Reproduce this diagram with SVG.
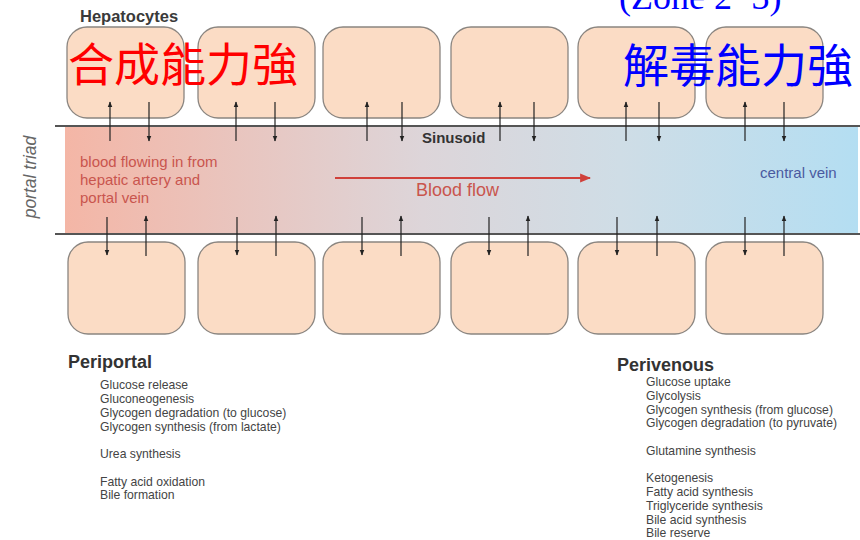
<svg xmlns="http://www.w3.org/2000/svg" width="860" height="540" viewBox="0 0 860 540">
<defs>
<linearGradient id="bandGrad" x1="65" y1="0" x2="858" y2="0" gradientUnits="userSpaceOnUse">
<stop offset="0" stop-color="#f4b6a6"/>
<stop offset="0.45" stop-color="#ddd5d9"/>
<stop offset="0.7" stop-color="#cfdde6"/>
<stop offset="1" stop-color="#b4def2"/>
</linearGradient>
<marker id="ah" viewBox="0 0 10 10" refX="9" refY="5" markerWidth="6" markerHeight="6" orient="auto" markerUnits="userSpaceOnUse">
<path d="M0,1 L10,5 L0,9 z" fill="#222"/>
</marker>
<marker id="rh" viewBox="0 0 10 10" refX="9" refY="5" markerWidth="11" markerHeight="11" orient="auto" markerUnits="userSpaceOnUse">
<path d="M0,1 L10,5 L0,9 z" fill="#d0403a"/>
</marker>
</defs>
<style>
.cell{fill:#fbdcc5;stroke:#8a8580;stroke-width:1.3}
.ar{stroke:#222;stroke-width:1.2;fill:none;marker-end:url(#ah)}
.sans{font-family:"Liberation Sans",Arial,sans-serif}
.item{font-family:"Liberation Sans",Arial,sans-serif;font-size:12.2px;fill:#444}
.head{font-family:"Liberation Sans",Arial,sans-serif;font-size:18px;font-weight:bold;fill:#333}
.cjk{font-family:"Noto Sans CJK TC","Noto Sans CJK SC",sans-serif;font-size:46px}
</style>
<rect width="860" height="540" fill="#ffffff"/>

<g id="sinusoid">
<rect x="65" y="126" width="793" height="108" fill="url(#bandGrad)"/>
<line x1="55" y1="126" x2="860" y2="126" stroke="#555" stroke-width="2"/>
<line x1="55" y1="234" x2="860" y2="234" stroke="#555" stroke-width="2"/>
<text x="422" y="143" class="sans" font-size="15" font-weight="bold" fill="#333">Sinusoid</text>
<text class="sans" font-size="15" fill="#c9554e"><tspan x="80" y="167">blood flowing in from</tspan><tspan x="80" y="185">hepatic artery and</tspan><tspan x="80" y="203">portal vein</tspan></text>
<text x="760" y="178" class="sans" font-size="15" fill="#4a5aa0">central vein</text>
</g>

<g id="top-cells">
<rect id="t1" class="cell" x="67" y="27" width="117" height="91" rx="20"/>
<rect id="t2" class="cell" x="198" y="27" width="117" height="91" rx="20"/>
<rect id="t3" class="cell" x="323" y="27" width="117" height="91" rx="20"/>
<rect id="t4" class="cell" x="451" y="27" width="117" height="91" rx="20"/>
<rect id="t5" class="cell" x="578" y="27" width="117" height="91" rx="20"/>
<rect id="t6" class="cell" x="706" y="27" width="117" height="91" rx="20"/>
</g>
<g id="bottom-cells">
<rect id="b1" class="cell" x="68" y="242" width="117" height="92" rx="20"/>
<rect id="b2" class="cell" x="198" y="242" width="117" height="92" rx="20"/>
<rect id="b3" class="cell" x="323" y="242" width="117" height="92" rx="20"/>
<rect id="b4" class="cell" x="451" y="242" width="117" height="92" rx="20"/>
<rect id="b5" class="cell" x="578" y="242" width="117" height="92" rx="20"/>
<rect id="b6" class="cell" x="706" y="242" width="117" height="92" rx="20"/>
</g>

<g id="connectors">
<line class="ar" x1="110" y1="141" x2="110" y2="102"/>
<line class="ar" x1="149" y1="102" x2="149" y2="141"/>
<line class="ar" x1="236" y1="141" x2="236" y2="102"/>
<line class="ar" x1="275" y1="102" x2="275" y2="141"/>
<line class="ar" x1="367" y1="141" x2="367" y2="102"/>
<line class="ar" x1="402" y1="102" x2="402" y2="141"/>
<line class="ar" x1="500" y1="141" x2="500" y2="102"/>
<line class="ar" x1="534" y1="102" x2="534" y2="141"/>
<line class="ar" x1="626" y1="141" x2="626" y2="102"/>
<line class="ar" x1="659" y1="102" x2="659" y2="141"/>
<line class="ar" x1="745" y1="141" x2="745" y2="102"/>
<line class="ar" x1="784" y1="102" x2="784" y2="141"/>

<line class="ar" x1="107" y1="217" x2="107" y2="255"/>
<line class="ar" x1="146" y1="256" x2="146" y2="216"/>
<line class="ar" x1="237" y1="217" x2="237" y2="255"/>
<line class="ar" x1="276" y1="256" x2="276" y2="216"/>
<line class="ar" x1="362" y1="217" x2="362" y2="255"/>
<line class="ar" x1="401" y1="256" x2="401" y2="216"/>
<line class="ar" x1="489" y1="217" x2="489" y2="255"/>
<line class="ar" x1="528" y1="256" x2="528" y2="216"/>
<line class="ar" x1="617" y1="217" x2="617" y2="255"/>
<line class="ar" x1="657" y1="256" x2="657" y2="216"/>
<line class="ar" x1="745" y1="217" x2="745" y2="255"/>
<line class="ar" x1="784" y1="256" x2="784" y2="216"/>

<line x1="335" y1="178" x2="590" y2="178" stroke="#d0403a" stroke-width="2.2" marker-end="url(#rh)"/>
</g>

<g id="labels">
<text x="80" y="22" class="sans" font-size="16.5" font-weight="bold" fill="#3a3a3a">Hepatocytes</text>
<text x="416" y="196" class="sans" font-size="18" fill="#c9554e">Blood flow</text>
<text transform="translate(36,177) rotate(-90)" text-anchor="middle" class="sans" font-size="17.5" font-style="italic" fill="#666">portal triad</text>
<text x="68" y="81" class="cjk" fill="#ff0000">合成能力強</text>
<text x="623" y="82" class="cjk" fill="#0000ff">解毒能力強</text>
<text x="619" y="9" font-family="'Liberation Serif','Times New Roman',serif" font-size="36" fill="#0000ff">(Zone 2~3)</text>
</g>

<g id="periportal">
<text x="68" y="368" class="head">Periportal</text>
<text x="100" y="389" class="item">Glucose release</text>
<text x="100" y="403" class="item">Gluconeogenesis</text>
<text x="100" y="417" class="item">Glycogen degradation (to glucose)</text>
<text x="100" y="431" class="item">Glycogen synthesis (from lactate)</text>
<text x="100" y="458" class="item">Urea synthesis</text>
<text x="100" y="486" class="item">Fatty acid oxidation</text>
<text x="100" y="499" class="item">Bile formation</text>
</g>

<g id="perivenous">
<text x="617" y="371" class="head">Perivenous</text>
<text x="646" y="386" class="item">Glucose uptake</text>
<text x="646" y="400" class="item">Glycolysis</text>
<text x="646" y="414" class="item">Glycogen synthesis (from glucose)</text>
<text x="646" y="427" class="item">Glycogen degradation (to pyruvate)</text>
<text x="646" y="455" class="item">Glutamine synthesis</text>
<text x="646" y="482" class="item">Ketogenesis</text>
<text x="646" y="496" class="item">Fatty acid synthesis</text>
<text x="646" y="510" class="item">Triglyceride synthesis</text>
<text x="646" y="524" class="item">Bile acid synthesis</text>
<text x="646" y="537" class="item">Bile reserve</text>
</g>
</svg>
